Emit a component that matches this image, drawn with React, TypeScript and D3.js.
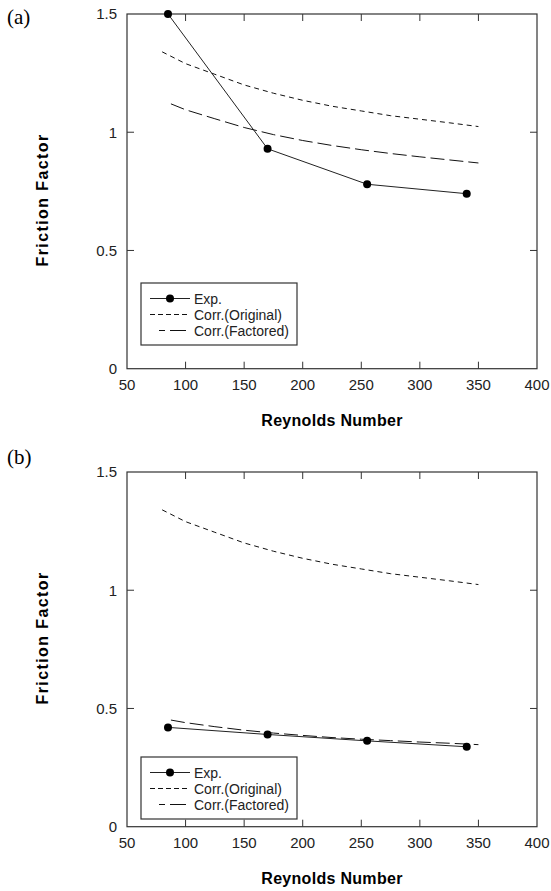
import React, { useEffect, useRef } from 'react';
import * as d3 from 'd3';

// Reynolds numbers of the measured points and of the two correlations
const reExp = [85, 170, 255, 340];
const reOriginal = [80, 100, 125, 150, 175, 200, 225, 250, 275, 300, 325, 350];
const reFactored = [87.5, 100, 125, 150, 175, 200, 225, 250, 275, 300, 325, 350];

// panel (a)
const expA = [1.5, 0.93, 0.78, 0.74];
const originalA = [1.34, 1.29, 1.245, 1.2, 1.165, 1.135, 1.11, 1.09, 1.07, 1.055, 1.04, 1.024];
const factoredA = [1.12, 1.095, 1.057, 1.02, 0.99, 0.965, 0.944, 0.926, 0.91, 0.896, 0.883, 0.87];

// panel (b)
const expB = [0.42, 0.39, 0.363, 0.338];
const originalB = [1.34, 1.29, 1.245, 1.2, 1.165, 1.135, 1.11, 1.09, 1.07, 1.055, 1.04, 1.024];
const factoredB = [0.451, 0.44, 0.423, 0.408, 0.396, 0.386, 0.377, 0.37, 0.364, 0.358, 0.353, 0.347];

const xTicks = [50, 100, 150, 200, 250, 300, 350, 400];
const yTicks = [0, 0.5, 1, 1.5];
const yTickLabels = ['0', '0.5', '1', '1.5'];
const legendLabels = ['Exp.', 'Corr.(Original)', 'Corr.(Factored)'];

const SANS = '"Liberation Sans", Arial, sans-serif';
const SERIF = '"Liberation Serif", "Times New Roman", serif';
const INK = '#222';

export default function App() {
  const ref = useRef<SVGSVGElement>(null);

  useEffect(() => {
    const svg = d3.select(ref.current);
    svg.selectAll('*').remove();

    const left = 127, right = 537;
    const x = d3.scaleLinear().domain([50, 400]).range([left, right]);

    function panel(tag: string, top: number, tagY: number, legendTop: number, titleY: number,
      exp: number[], orig: number[], fact: number[]) {
      const bottom = top + 354.7;
      const y = d3.scaleLinear().domain([0, 1.5]).range([bottom, top]);
      const g = svg.append('g');

      g.append('text').attr('x', 7).attr('y', tagY)
        .attr('font-family', SERIF).attr('font-size', 21).attr('fill', '#000')
        .text(tag);

      // frame
      g.append('rect').attr('x', left).attr('y', top)
        .attr('width', right - left).attr('height', bottom - top)
        .attr('fill', 'none').attr('stroke', '#333').attr('stroke-width', 1.2);

      // inward ticks on all four sides
      const tk = 7;
      xTicks.slice(1, -1).forEach(v => {
        g.append('line').attr('x1', x(v)).attr('x2', x(v)).attr('y1', bottom).attr('y2', bottom - tk).attr('stroke', '#333');
        g.append('line').attr('x1', x(v)).attr('x2', x(v)).attr('y1', top).attr('y2', top + tk).attr('stroke', '#333');
      });
      yTicks.slice(1, -1).forEach(v => {
        g.append('line').attr('x1', left).attr('x2', left + tk).attr('y1', y(v)).attr('y2', y(v)).attr('stroke', '#333');
        g.append('line').attr('x1', right).attr('x2', right - tk).attr('y1', y(v)).attr('y2', y(v)).attr('stroke', '#333');
      });

      // tick labels
      g.selectAll('.xl').data(xTicks).enter().append('text')
        .attr('x', d => x(d)).attr('y', bottom + 21)
        .attr('text-anchor', 'middle').attr('font-family', SANS).attr('font-size', 15).attr('fill', INK)
        .text(d => d);
      g.selectAll('.yl').data(yTicks).enter().append('text')
        .attr('x', 117).attr('y', d => y(d)).attr('dy', '0.36em')
        .attr('text-anchor', 'end').attr('font-family', SANS).attr('font-size', 15).attr('fill', INK)
        .text((d, i) => yTickLabels[i]);

      // axis titles
      g.append('text').attr('x', (left + right) / 2).attr('y', bottom + 57)
        .attr('text-anchor', 'middle').attr('font-family', SANS).attr('font-size', 16)
        .attr('font-weight', 'bold').attr('fill', '#000').attr('letter-spacing', 0.3)
        .text('Reynolds Number');
      g.append('text')
        .attr('transform', `translate(48,${titleY}) rotate(-90)`)
        .attr('text-anchor', 'middle').attr('font-family', SANS).attr('font-size', 16)
        .attr('font-weight', 'bold').attr('fill', '#000').attr('letter-spacing', 1.4)
        .text('Friction Factor');

      const line = d3.line<[number, number]>().x(d => x(d[0])).y(d => y(d[1]));

      g.append('path').attr('d', line(d3.zip(reOriginal, orig) as [number, number][]))
        .attr('fill', 'none').attr('stroke', '#111').attr('stroke-width', 1).attr('stroke-dasharray', '5,4');
      g.append('path').attr('d', line(d3.zip(reFactored, fact) as [number, number][]))
        .attr('fill', 'none').attr('stroke', '#111').attr('stroke-width', 1).attr('stroke-dasharray', '14,5');
      g.append('path').attr('d', line(d3.zip(reExp, exp) as [number, number][]))
        .attr('fill', 'none').attr('stroke', '#222').attr('stroke-width', 1);
      g.selectAll('.pt').data(d3.zip(reExp, exp)).enter().append('circle')
        .attr('cx', d => x(d[0])).attr('cy', d => y(d[1])).attr('r', 4).attr('fill', '#000');

      // legend
      const lx = 141;
      g.append('rect').attr('x', lx).attr('y', legendTop).attr('width', 156).attr('height', 62)
        .attr('fill', '#fff').attr('stroke', '#333').attr('stroke-width', 1.2);
      const rowY = [legendTop + 15.5, legendTop + 31.5, legendTop + 47.5];
      g.append('line').attr('x1', lx + 9).attr('x2', lx + 49).attr('y1', rowY[0]).attr('y2', rowY[0]).attr('stroke', '#222');
      g.append('circle').attr('cx', lx + 29).attr('cy', rowY[0]).attr('r', 4).attr('fill', '#000');
      g.append('line').attr('x1', lx + 9).attr('x2', lx + 49).attr('y1', rowY[1]).attr('y2', rowY[1])
        .attr('stroke', '#111').attr('stroke-dasharray', '5,3');
      g.append('line').attr('x1', lx + 18).attr('x2', lx + 49).attr('y1', rowY[2]).attr('y2', rowY[2])
        .attr('stroke', '#111').attr('stroke-dasharray', '16,5').attr('stroke-dashoffset', 10);
      legendLabels.forEach((t, i) => {
        g.append('text').attr('x', lx + 53).attr('y', rowY[i]).attr('dy', '0.36em')
          .attr('font-family', SANS).attr('font-size', 14).attr('fill', INK).text(t);
      });
    }

    panel('(a)', 14, 23.5, 283, 200, expA, originalA, factoredA);
    panel('(b)', 472, 463.5, 757, 638, expB, originalB, factoredB);
  }, []);

  return (
    <svg ref={ref} width={551} height={891}
      style={{ position: 'absolute', left: 0, top: 0, background: '#fff' }} />
  );
}
